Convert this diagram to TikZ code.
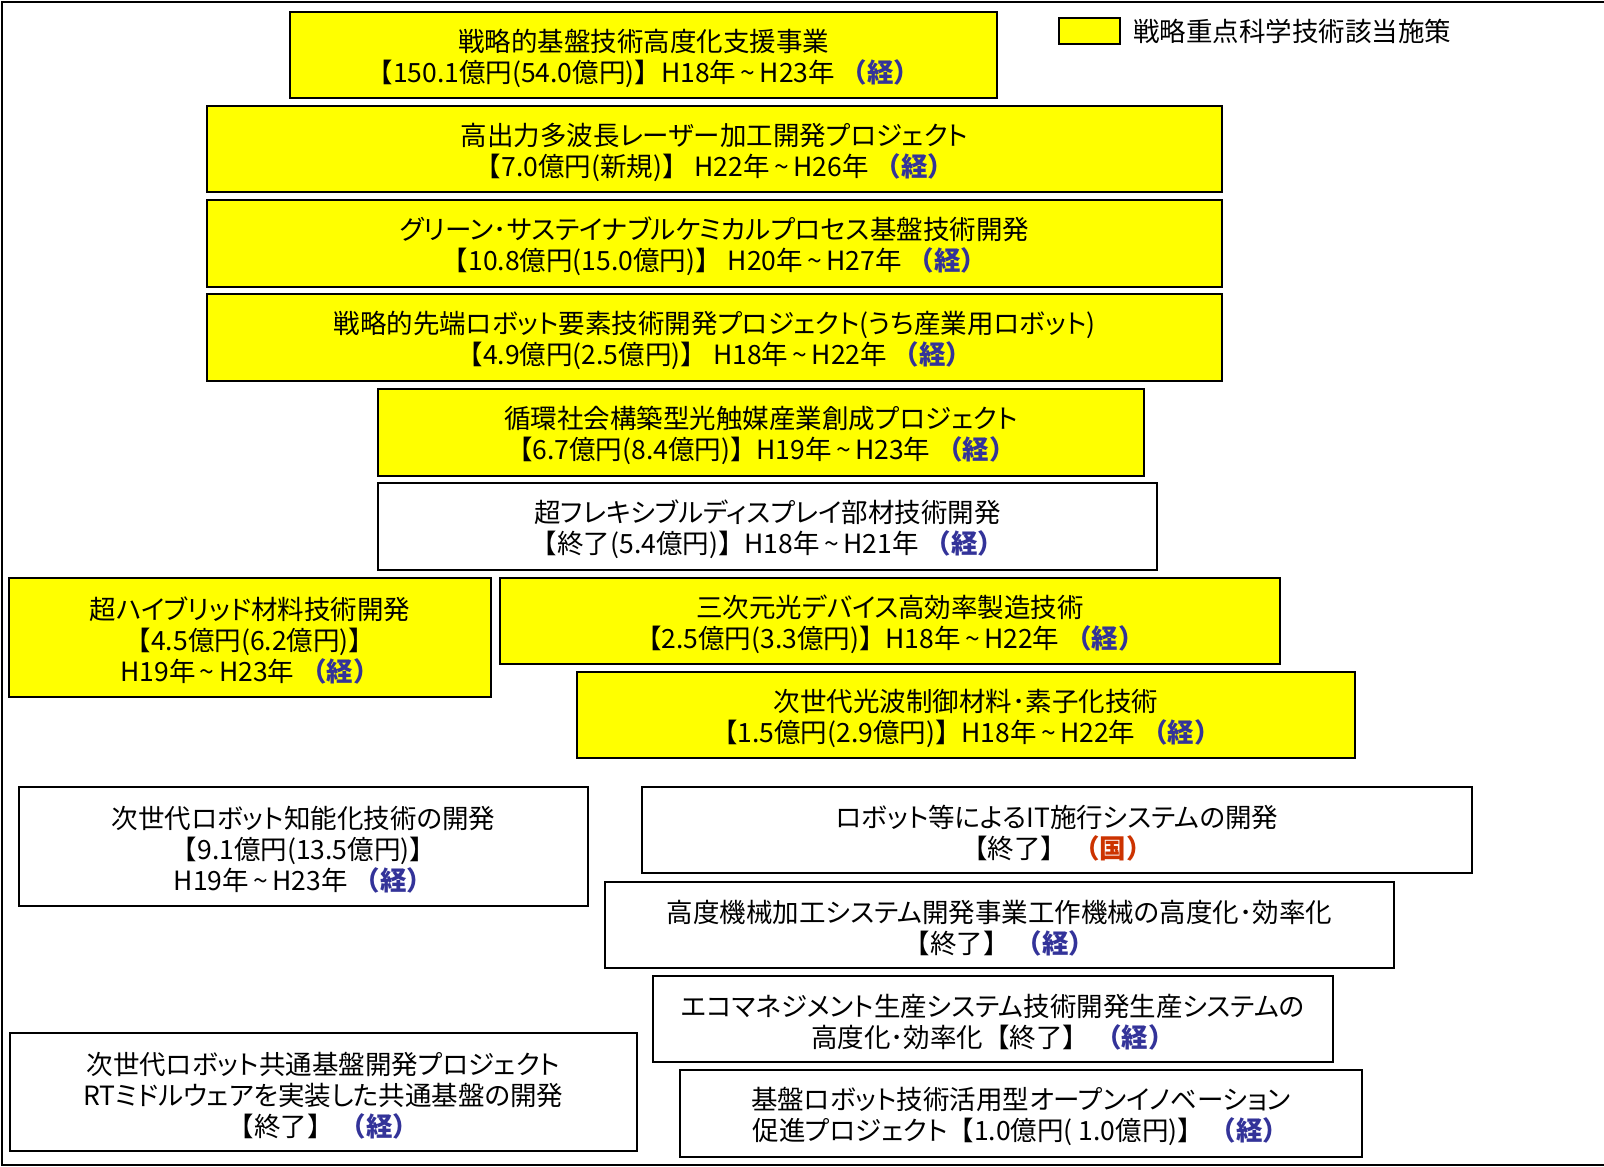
\documentclass[tikz,border=0pt]{standalone}
\usepackage{fontspec}
\setmainfont{Noto Sans CJK JP}[RawFeature=+palt]
\newfontfamily\fullw{Noto Sans CJK JP}
\definecolor{yel}{HTML}{FFFF00}
\definecolor{keiblue}{HTML}{333399}
\definecolor{kokured}{HTML}{CC3300}
\newcommand{\kei}{{\fullw\bfseries\color{keiblue}（経）}}
\newcommand{\koku}{{\fullw\bfseries\color{kokured}（国）}}
\newcommand{\tld}{\,\textasciitilde\,}
\newcommand{\lb}{{\fullw 【}}
\newcommand{\rb}{{\fullw 】}}
\newcommand{\pbox}[7]{\node[#6, minimum width={(#4-#2)*1pt}, minimum height={(#5-#3)*1pt}] (#1) at ({(#2+#4)/2},{(#3+#5)/2}) {\rule{0pt}{29pt}#7};}
\tikzset{
  box/.style={draw=black, line width=2.5pt, inner sep=0pt, align=center, font=\fontsize{26.5}{31}\selectfont},
  ybox/.style={box, fill=yel},
  wbox/.style={box, fill=white},
}
\begin{document}
\begin{tikzpicture}[x=1pt,y=-1pt]
\useasboundingbox (0,0) rectangle (1604,1167);
\draw[line width=2pt] (1606,2) -- (2,2) -- (2,1165) -- (1606,1165);
% legend
\node[draw=black, line width=2pt, fill=yel, minimum width=61pt, minimum height=26pt, inner sep=0pt] (leg) at (1089.5,31) {};
\node[anchor=west, inner sep=0pt, font=\fontsize{26.5}{31}\selectfont] (legt) at (1133,31.5) {戦略重点科学技術該当施策};
% boxes
\pbox{b1}{290}{12}{997}{98}{ybox}{戦略的基盤技術高度化支援事業\\\lb 150.1億円(54.0億円)\rb H18年\tld H23年 \kei}
\pbox{b2}{207}{106}{1222}{192}{ybox}{高出力多波長レーザー加工開発プロジェクト\\\lb 7.0億円(新規)\rb\ H22年\tld H26年 \kei}
\pbox{b3}{207}{200}{1222}{287}{ybox}{グリーン･サステイナブルケミカルプロセス基盤技術開発\\\lb 10.8億円(15.0億円)\rb\ H20年\tld H27年 \kei}
\pbox{b4}{207}{294}{1222}{381}{ybox}{戦略的先端ロボット要素技術開発プロジェクト(うち産業用ロボット)\\\lb 4.9億円(2.5億円)\rb\ H18年\tld H22年 \kei}
\pbox{b5}{378}{389}{1144}{476}{ybox}{循環社会構築型光触媒産業創成プロジェクト\\\lb 6.7億円(8.4億円)\rb H19年\tld H23年 \kei}
\pbox{b6}{378}{483}{1157}{570}{wbox}{超フレキシブルディスプレイ部材技術開発\\\lb 終了(5.4億円)\rb H18年\tld H21年 \kei}
\pbox{b7}{9}{578}{491}{697}{ybox}{超ハイブリッド材料技術開発\\\lb 4.5億円(6.2億円)\rb\\H19年\tld H23年 \kei}
\pbox{b8}{500}{578}{1280}{664}{ybox}{三次元光デバイス高効率製造技術\\\lb 2.5億円(3.3億円)\rb H18年\tld H22年 \kei}
\pbox{b9}{577}{672}{1355}{758}{ybox}{次世代光波制御材料･素子化技術\\\lb 1.5億円(2.9億円)\rb H18年\tld H22年 \kei}
\pbox{b10}{19}{787}{588}{906}{wbox}{次世代ロボット知能化技術の開発\\\lb 9.1億円(13.5億円)\rb\\H19年\tld H23年 \kei}
\pbox{b11}{642}{787}{1472}{873}{wbox}{ロボット等によるIT施行システムの開発\\\lb 終了\rb\ \koku}
\pbox{b12}{605}{882}{1394}{968}{wbox}{高度機械加工システム開発事業工作機械の高度化･効率化\\\lb 終了\rb\ \kei}
\pbox{b13}{653}{976}{1333}{1062}{wbox}{エコマネジメント生産システム技術開発生産システムの\\高度化･効率化\lb 終了\rb\ \kei}
\pbox{b14}{10}{1033}{637}{1151}{wbox}{次世代ロボット共通基盤開発プロジェクト\\RTミドルウェアを実装した共通基盤の開発\\\lb 終了\rb\ \kei}
\pbox{b15}{680}{1070}{1362}{1157}{wbox}{基盤ロボット技術活用型オープンイノベーション\\促進プロジェクト\lb 1.0億円( 1.0億円)\rb\ \kei}
\end{tikzpicture}
\end{document}
